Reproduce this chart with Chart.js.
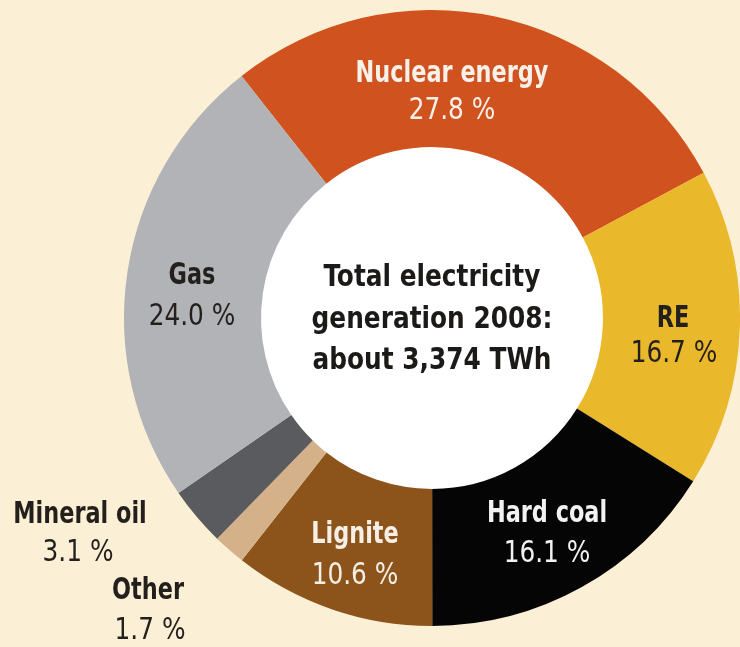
<!DOCTYPE html>
<html>
<head>
<meta charset="utf-8">
<script src="https://cdn.jsdelivr.net/npm/chart.js@4.4.1/dist/chart.umd.min.js"></script>
<style>
  html, body { margin: 0; padding: 0; background: #fbefd5; }
  #wrap { width: 740px; height: 647px; }
</style>
</head>
<body>
<div id="wrap"><canvas id="c" width="740" height="647"></canvas></div>
<script>
// ---- data ----
const categories = ['Nuclear energy', 'RE', 'Hard coal', 'Lignite', 'Other', 'Mineral oil', 'Gas'];
const shares = [27.8, 16.7, 16.1, 10.6, 1.7, 3.1, 24.0];
const centerLines = ['Total electricity', 'generation 2008:', 'about 3,374 TWh'];

// ---- styles / layout ----
const sliceColors = ['#d0521e', '#e9b82b', '#050505', '#8c541b', '#d5b189', '#5a5b5f', '#b2b3b7'];
const labelColors = ['#f7f1ea', '#231f1c', '#f2f2f2', '#f5efe6', '#231f1c', '#231f1c', '#231f1c'];
// label layout relative to chart centre: [dx line1, dx line2, dy block centre, line gap]
const labelOffsets = [
  [20, 20, -225.5, 37],
  [241, 242, 18.5, 35],
  [115, 115, 216, 40],
  [-77, -77, 237.5, 41],
  [-284, -282, 293.5, 40],
  [-352, -354, 216.5, 38],
  [-240, -240, -21.5, 41]
];
const FONT = "'DejaVu Sans Condensed', 'Liberation Sans Narrow', sans-serif";

function squeezedText(ctx, text, x, y, sx) {
  ctx.save();
  ctx.translate(x, y);
  ctx.scale(sx, 1);
  ctx.fillText(text, 0, 0);
  ctx.restore();
}

const labelPlugin = {
  id: 'labels',
  beforeDatasetsDraw(chart) {
    const arc = chart.getDatasetMeta(0).data[0];
    const ctx = chart.ctx;
    ctx.save();
    ctx.fillStyle = '#ffffff';
    ctx.beginPath();
    ctx.arc(arc.x, arc.y, arc.innerRadius + 1, 0, Math.PI * 2);
    ctx.fill();
    ctx.restore();
  },
  afterDatasetsDraw(chart) {
    const meta = chart.getDatasetMeta(0);
    const arc = meta.data[0];
    const cx = arc.x, cy = arc.y;
    const ctx = chart.ctx;
    ctx.save();
    ctx.textAlign = 'center';
    ctx.textBaseline = 'middle';
    categories.forEach((name, i) => {
      const [dx1, dx2, dy, gap] = labelOffsets[i];
      ctx.fillStyle = labelColors[i];
      ctx.font = 'bold 30px ' + FONT;
      squeezedText(ctx, name, cx + dx1, cy + dy - gap / 2, 0.83);
      ctx.font = '30px ' + FONT;
      squeezedText(ctx, shares[i].toFixed(1) + ' %', cx + dx2, cy + dy + gap / 2, 0.92);
    });
    ctx.fillStyle = '#1c1a19';
    ctx.font = 'bold 31px ' + FONT;
    const clh = 41.5;
    centerLines.forEach((t, j) => {
      squeezedText(ctx, t, cx, cy - 40 + j * clh, 0.89);
    });
    ctx.restore();
  }
};

new Chart(document.getElementById('c'), {
  type: 'doughnut',
  data: {
    labels: categories,
    datasets: [{
      data: shares,
      backgroundColor: sliceColors,
      borderWidth: 0,
      hoverOffset: 0
    }]
  },
  options: {
    responsive: false,
    animation: false,
    rotation: -38.2,
    cutout: '55.5%',
    layout: { padding: { left: 124, right: 0, top: 10, bottom: 21 } },
    plugins: { legend: { display: false }, tooltip: { enabled: false } },
    events: []
  },
  plugins: [labelPlugin]
});
</script>
</body>
</html>
